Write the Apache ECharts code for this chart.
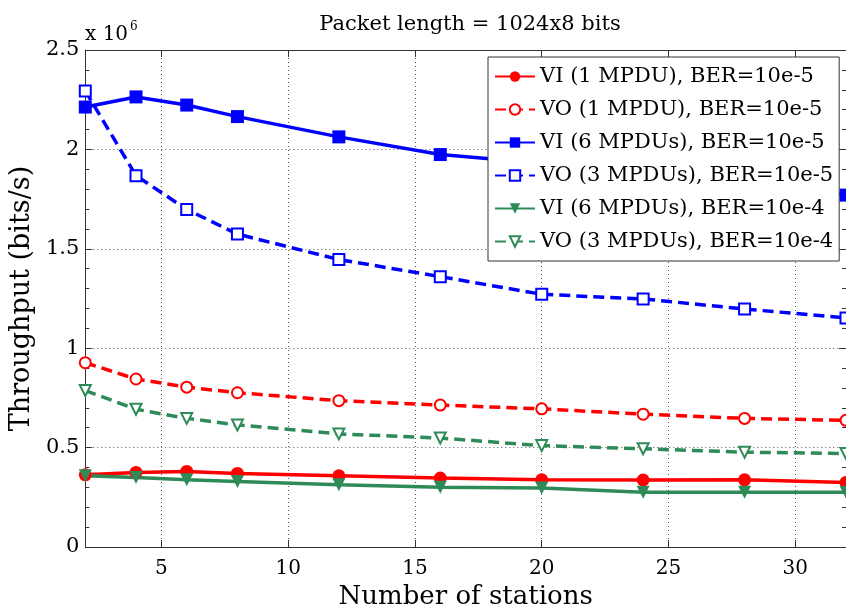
<!DOCTYPE html>
<html>
<head>
<meta charset="utf-8">
<script src="https://cdn.jsdelivr.net/npm/echarts@6/dist/echarts.min.js"></script>
<style>
  html, body { margin: 0; padding: 0; background: #fff; }
  #chart { width: 846px; height: 615px; }
</style>
</head>
<body>
<div id="chart"></div>
<script>
const FONT = 'DejaVu Serif'
const RED = '#ff0000'
const BLUE = '#0000ff'
const GREEN = '#2e8b57'

const stations = [2, 4, 6, 8, 12, 16, 20, 24, 28, 32]
const xTickValues = [5, 10, 15, 20, 25, 30]

// throughput, in units of 10^6 bits/s
const viOneMpdu5 = [0.363, 0.375, 0.380, 0.370, 0.358, 0.347, 0.338, 0.337, 0.338, 0.325]
const voOneMpdu5 = [0.927, 0.845, 0.804, 0.776, 0.736, 0.714, 0.695, 0.668, 0.647, 0.637]
const viSixMpdus5 = [2.213, 2.264, 2.223, 2.165, 2.063, 1.974, 1.93, 1.88, 1.83, 1.77]
const voThreeMpdus5 = [2.294, 1.868, 1.698, 1.574, 1.446, 1.360, 1.271, 1.248, 1.197, 1.152]
const viSixMpdus4 = [0.358, 0.350, 0.338, 0.330, 0.313, 0.300, 0.297, 0.276, 0.276, 0.276]
const voThreeMpdus4 = [0.787, 0.693, 0.647, 0.614, 0.569, 0.548, 0.510, 0.494, 0.477, 0.470]

const seriesNames = [
  'VI (1 MPDU), BER=10e-5',
  'VO (1 MPDU), BER=10e-5',
  'VI (6 MPDUs), BER=10e-5',
  'VO (3 MPDUs), BER=10e-5',
  'VI (6 MPDUs), BER=10e-4',
  'VO (3 MPDUs), BER=10e-4'
]

function pairs(values) {
  return stations.map((x, i) => [x, values[i]])
}

function makeSeries(name, values, color, symbol, dashed, rotate) {
  const hollow = symbol.startsWith('empty')
  return {
    name,
    type: 'line',
    data: pairs(values),
    symbol,
    symbolSize: hollow ? 11 : 13,
    symbolRotate: rotate || 0,
    showAllSymbol: true,
    animation: false,
    lineStyle: { color, width: 3.5, type: dashed ? [11, 6] : 'solid' },
    itemStyle: { color, borderColor: color, borderWidth: hollow ? 3 : 0 }
  }
}

const chart = echarts.init(document.getElementById('chart'), null, { renderer: 'canvas' })

const grid = { left: 85, top: 50, width: 761, height: 504 }
const dotted = { show: true, lineStyle: { color: '#555', type: [1, 3], width: 1 } }

chart.setOption({
  backgroundColor: '#fff',
  textStyle: { fontFamily: FONT },
  title: [
    {
      text: 'Packet length = 1024x8 bits',
      left: 465,
      textAlign: 'center',
      top: 9,
      textStyle: { fontFamily: FONT, fontSize: 21, fontWeight: 'normal', color: '#000' }
    },
    {
      text: '{a|x 10}{s|6}',
      left: 80,
      top: 16,
      textStyle: {
        fontWeight: 'normal',
        rich: {
          a: { fontFamily: FONT, fontSize: 20, fontWeight: 'normal', color: '#000', verticalAlign: 'bottom' },
          s: { fontFamily: FONT, fontSize: 12, fontWeight: 'normal', color: '#000', verticalAlign: 'top', padding: [0, 0, 12, 2] }
        }
      }
    }
  ],
  legend: {
    orient: 'vertical',
    left: 488,
    top: 57,
    data: seriesNames,
    itemWidth: 40,
    itemHeight: 13,
    itemGap: 12,
    padding: [9, 6, 9, 6],
    backgroundColor: '#fff',
    borderColor: '#333',
    borderWidth: 1,
    textStyle: { fontFamily: FONT, fontSize: 21, color: '#000' },
    z: 10
  },
  grid,
  xAxis: [
    {
      type: 'value',
      min: 2,
      max: 32,
      name: 'Number of stations',
      nameLocation: 'middle',
      nameGap: 37,
      nameTextStyle: { fontFamily: FONT, fontSize: 26, color: '#000' },
      axisLine: { show: true, onZero: false, lineStyle: { color: '#333', width: 1 } },
      axisTick: { show: true, inside: true, length: 7, customValues: xTickValues, lineStyle: { color: '#333' } },
      axisLabel: { customValues: xTickValues, fontFamily: FONT, fontSize: 20, color: '#000', margin: 12 },
      splitLine: dotted
    },
    {
      type: 'value',
      position: 'top',
      min: 2,
      max: 32,
      axisLine: { show: true, onZero: false, lineStyle: { color: '#333', width: 1 } },
      axisTick: { show: true, inside: true, length: 7, customValues: xTickValues, lineStyle: { color: '#333' } },
      axisLabel: { show: false },
      splitLine: { show: false }
    }
  ],
  yAxis: [
    {
      type: 'value',
      min: 0,
      max: 2.5,
      interval: 0.5,
      name: 'Throughput (bits/s)',
      nameLocation: 'middle',
      nameGap: 40,
      nameTextStyle: { fontFamily: FONT, fontSize: 27, color: '#000' },
      axisLine: { show: true, onZero: false, lineStyle: { color: '#333', width: 1 } },
      axisTick: { show: true, inside: true, length: 7, lineStyle: { color: '#333' } },
      minorTick: { show: true, splitNumber: 5, length: 4, lineStyle: { color: '#333' } },
      axisLabel: { fontFamily: FONT, fontSize: 21, color: '#000', margin: 6 },
      splitLine: dotted
    },
    {
      type: 'value',
      position: 'right',
      min: 0,
      max: 2.5,
      interval: 0.5,
      axisLine: { show: true, onZero: false, lineStyle: { color: '#333', width: 1 } },
      axisTick: { show: true, inside: true, length: 7, lineStyle: { color: '#333' } },
      minorTick: { show: true, splitNumber: 5, length: 4, lineStyle: { color: '#333' } },
      axisLabel: { show: false },
      splitLine: { show: false }
    }
  ],
  series: [
    makeSeries(seriesNames[0], viOneMpdu5, RED, 'circle', false),
    makeSeries(seriesNames[1], voOneMpdu5, RED, 'emptyCircle', true),
    makeSeries(seriesNames[2], viSixMpdus5, BLUE, 'rect', false),
    makeSeries(seriesNames[3], voThreeMpdus5, BLUE, 'emptyRect', true),
    makeSeries(seriesNames[4], viSixMpdus4, GREEN, 'triangle', false, 180),
    makeSeries(seriesNames[5], voThreeMpdus4, GREEN, 'emptyTriangle', true, 180)
  ]
})
</script>
</body>
</html>
